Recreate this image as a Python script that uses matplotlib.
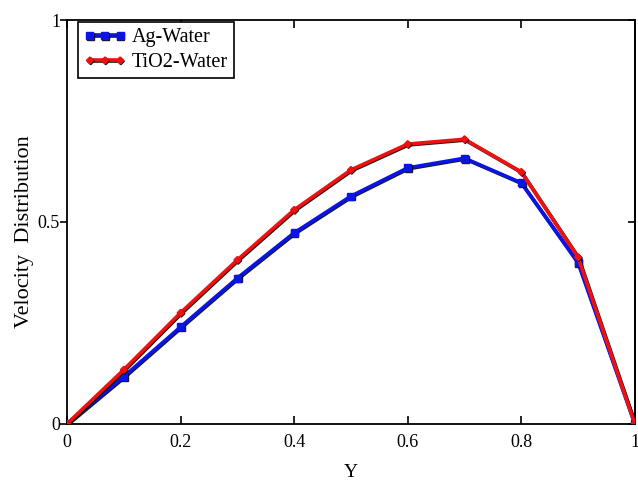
import numpy as np
import matplotlib
matplotlib.use("Agg")
import matplotlib.pyplot as plt
import matplotlib.patheffects as pe

# data
y_pos = [0.0, 0.1, 0.2, 0.3, 0.4, 0.5, 0.6, 0.7, 0.8, 0.9, 1.0]
ag_water = [0.0, 0.117, 0.240, 0.361, 0.473, 0.564, 0.634, 0.658, 0.597, 0.399, 0.0]
tio2_water = [0.0, 0.134, 0.275, 0.406, 0.530, 0.629, 0.693, 0.705, 0.624, 0.413, 0.0]
xticks = [0, 0.2, 0.4, 0.6, 0.8, 1]
xticklabels = ["0", "0.2", "0.4", "0.6", "0.8", "1"]
yticks = [0, 0.5, 1]
yticklabels = ["0", "0.5", "1"]

plt.rcParams['font.family'] = ['Liberation Serif', 'DejaVu Serif']

fig = plt.figure(figsize=(6.38, 4.8), dpi=100)
ax = fig.add_axes([0.105, 0.117, 0.89, 0.841])

shadow = [pe.SimpleLineShadow(offset=(0.6, -0.6), shadow_color='k', alpha=0.9), pe.Normal()]
ax.plot(y_pos, ag_water, color='#0a14e6', lw=2.6, marker='s', ms=5,
        label='Ag-Water', path_effects=shadow, zorder=3)
ax.plot(y_pos, tio2_water, color='#f01010', lw=2.6, marker='D', ms=3.5,
        label='TiO2-Water', path_effects=shadow, zorder=4)

ax.set_xlim(0, 1)
ax.set_ylim(0, 1)
ax.set_xticks(xticks)
ax.set_xticklabels(xticklabels, fontsize=13)
ax.set_yticks(yticks)
ax.set_yticklabels(yticklabels, fontsize=13)
ax.tick_params(axis='x', direction='in', top=True, length=6, width=1.2, pad=7)
ax.tick_params(axis='y', direction='out', right=False, length=5, width=1.2, pad=0)
sec = ax.secondary_yaxis('right')
sec.set_yticks(yticks)
sec.tick_params(direction='in', length=5, width=1.2, labelright=False)
for s in ax.spines.values():
    s.set_linewidth(1.3)
sec.spines['right'].set_linewidth(1.3)

ax.set_xlabel('Y', fontsize=14, labelpad=10)
ax.set_ylabel('Velocity  Distribution', fontsize=16)
ax.yaxis.set_label_coords(-0.058, 0.475)

leg = ax.legend(loc='upper left', bbox_to_anchor=(0.019, 0.995), fontsize=14.5,
                fancybox=False, edgecolor='black', framealpha=1, numpoints=3,
                handlelength=2.1, handletextpad=0.3, borderpad=0.3,
                labelspacing=0.3, borderaxespad=0)
leg.get_frame().set_linewidth(1.2)

fig.savefig('out.png', dpi=100)
